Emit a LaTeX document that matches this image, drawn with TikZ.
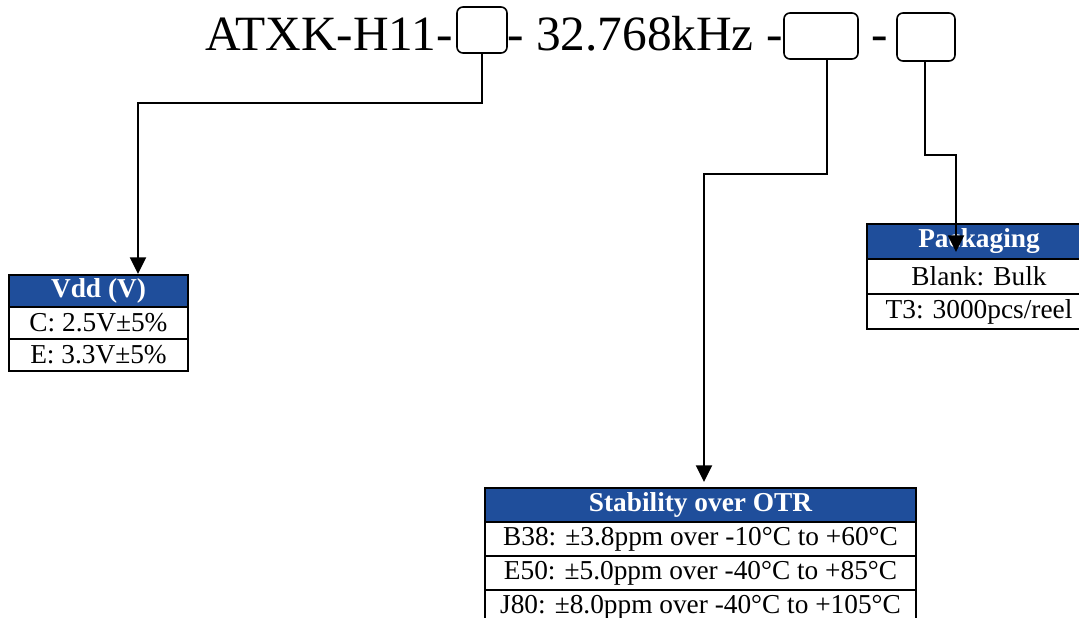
\documentclass[tikz,border=0pt]{standalone}
\usepackage{fontspec}
\setmainfont{Liberation Serif}
\usetikzlibrary{arrows.meta}
\definecolor{hdrblue}{RGB}{31,78,155}
\begin{document}
\begin{tikzpicture}[x=0.75pt,y=-0.75pt,
  ttl/.style={inner sep=0pt, font=\fontsize{37}{40}\selectfont},
  slot/.style={draw, line width=1.2pt, rounded corners=4.5pt, inner sep=0pt},
  cellbase/.style={draw, line width=1.6pt, inner sep=0pt, font=\fontsize{20.5}{22}\selectfont},
  hdr/.style={cellbase, fill=hdrblue, text=white, font=\fontsize{20.5}{22}\selectfont\bfseries},
  row/.style={cellbase, fill=white},
  conn/.style={line width=1.5pt, -{Triangle[width=12pt,length=12.5pt]}}
]
\useasboundingbox (0,0) rectangle (1079,618);
% title
\node[ttl, anchor=base east] (t1) at (453,50) {ATXK-H11-};
\node[ttl, anchor=base west] (t2) at (507,50) {- 32.768kHz -};
\node[ttl, anchor=base] (t3) at (880,50) {-};
\node[slot, minimum width=37.5pt, minimum height=34.5pt] (b1) at (482,30) {};
\node[slot, minimum width=55.5pt, minimum height=34.5pt] (b2) at (821,36) {};
\node[slot, minimum width=43.5pt, minimum height=36pt] (b3) at (926,37) {};
% Vdd table
\begin{scope}[every node/.append style={minimum width=134.25pt, minimum height=24pt}]
\node[hdr] (vh) at (98.5,291) {Vdd (V)};
\node[row] (v1) at (98.5,323) {C: 2.5V±5\%};
\node[row] (v2) at (98.5,355) {E: 3.3V±5\%};
\end{scope}
% Packaging table
\begin{scope}[every node/.append style={minimum width=168pt, minimum height=26.25pt}]
\node[hdr] (ph) at (979,241.5) {Packaging};
\node[row] (p1) at (979,276.5) {Blank: Bulk};
\node[row] (p2) at (979,311.5) {T3: 3000pcs/reel};
\end{scope}
% Stability table
\begin{scope}[every node/.append style={minimum width=323.25pt, minimum height=25.5pt}]
\node[hdr] (sh) at (700.5,505) {Stability over OTR};
\node[row] (s1) at (700.5,539) {B38: ±3.8ppm over -10°C to +60°C};
\node[row] (s2) at (700.5,573) {E50: ±5.0ppm over -40°C to +85°C};
\node[row] (s3) at (700.5,607) {J80: ±8.0ppm over -40°C to +105°C};
\end{scope}
% connectors
\coordinate (k1) at (138,103);
\coordinate (e1) at (138,274);
\draw[conn] (b1.south) |- (k1) -- (e1);
\coordinate (k2) at (704,174);
\coordinate (e2) at (704,482);
\draw[conn] (b2.south -| 827,0) |- (k2) -- (e2);
\coordinate (k3) at (956,155);
\coordinate (e3) at (956,252);
\draw[conn] (b3.south -| 925,0) |- (k3) -- (e3);
\end{tikzpicture}
\end{document}
